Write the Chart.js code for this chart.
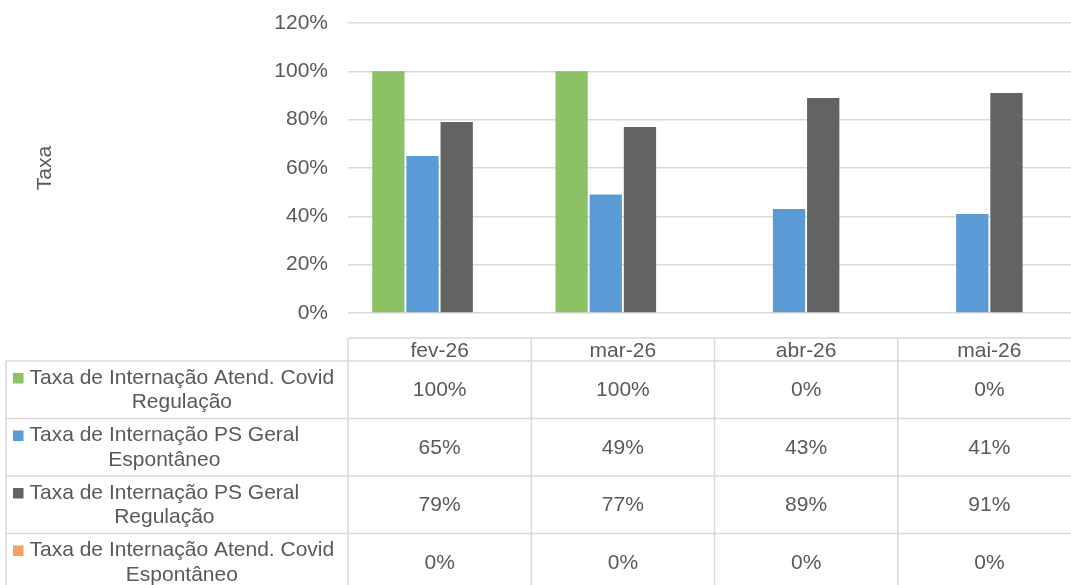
<!DOCTYPE html>
<html>
<head>
<meta charset="utf-8">
<script src="https://cdn.jsdelivr.net/npm/chart.js@4.4.1/dist/chart.umd.min.js"></script>
<style>
  html, body { margin: 0; padding: 0; overflow: hidden; background: #ffffff; }
  #wrap { position: absolute; left: 0; top: 0; width: 1083px; height: 585px; }
</style>
</head>
<body>
<div id="wrap"><canvas id="c" width="1083" height="585"></canvas></div>
<script>
// ---- Data ----
const categories = ['fev-26', 'mar-26', 'abr-26', 'mai-26'];
const seriesNames = [
  'Taxa de Internação Atend. Covid Regulação',
  'Taxa de Internação PS Geral Espontâneo',
  'Taxa de Internação PS Geral Regulação',
  'Taxa de Internação Atend. Covid Espontâneo'
];
const covidRegulacao = [100, 100, 0, 0];
const psGeralEspontaneo = [65, 49, 43, 41];
const psGeralRegulacao = [79, 77, 89, 91];
const covidEspontaneo = [0, 0, 0, 0];
const yTickValues = [0, 20, 40, 60, 80, 100, 120];
const axisTitle = 'Taxa';

const seriesValues = [covidRegulacao, psGeralEspontaneo, psGeralRegulacao, covidEspontaneo];
const seriesColors = ['#8DC166', '#5B9BD5', '#636363', '#F4A064'];

const FONT = '"Liberation Sans", Arial, sans-serif';
const TEXT = '#595959';
const LINE = '#D9D9D9';

const tablePlugin = {
  id: 'dataTable',
  afterDraw(chart) {
    const ctx = chart.ctx;
    const xs = chart.scales.x;
    const n = categories.length;
    const catW = (xs.right - xs.left) / n;
    const headerTop = 338, headerBottom = 361, rowH = 57.5;
    const tableLeft = 6;
    const bottom = headerBottom + rowH * seriesNames.length;

    ctx.save();
    ctx.strokeStyle = LINE;
    ctx.lineWidth = 1.5;
    ctx.beginPath();
    ctx.moveTo(xs.left, headerTop); ctx.lineTo(xs.right, headerTop);
    for (let i = 0; i <= n; i++) {
      const x = xs.left + i * catW;
      ctx.moveTo(x, headerTop); ctx.lineTo(x, bottom);
    }
    ctx.moveTo(tableLeft, headerBottom); ctx.lineTo(tableLeft, bottom);
    for (let k = 0; k <= seriesNames.length; k++) {
      const y = headerBottom + k * rowH;
      ctx.moveTo(tableLeft, y); ctx.lineTo(xs.right, y);
    }
    ctx.stroke();

    ctx.font = '21px ' + FONT;
    ctx.fillStyle = TEXT;
    ctx.textBaseline = 'alphabetic';
    ctx.textAlign = 'center';
    // header
    categories.forEach((c, i) => {
      ctx.fillText(c, xs.getPixelForValue(i), 356.5);
    });

    // rows
    const maxW = 314;
    seriesNames.forEach((name, r) => {
      const top = headerBottom + r * rowH;
      const words = name.split(' ');
      const lines = [];
      let cur = '';
      words.forEach(w => {
        const t = cur ? cur + ' ' + w : w;
        if (ctx.measureText(t).width > maxW && cur) { lines.push(cur); cur = w; }
        else cur = t;
      });
      if (cur) lines.push(cur);
      const blockW = Math.max(...lines.map(l => ctx.measureText(l).width));
      const blockLeft = 29.5;
      ctx.textAlign = 'center';
      lines.forEach((l, j) => {
        ctx.fillText(l, blockLeft + blockW / 2, top + 22.5 + j * 24.5);
      });
      // legend key
      ctx.fillStyle = seriesColors[r];
      ctx.fillRect(13, top + 12, 10.5, 10.5);
      ctx.fillStyle = TEXT;
      // values
      seriesValues[r].forEach((v, i) => {
        ctx.fillText(v + '%', xs.getPixelForValue(i), top + 35);
      });
    });

    // y axis title
    ctx.translate(45, 168);
    ctx.rotate(-Math.PI / 2);
    ctx.textAlign = 'center';
    ctx.textBaseline = 'middle';
    ctx.fillText(axisTitle, 0, 0);
    ctx.restore();
  }
};

new Chart(document.getElementById('c'), {
  type: 'bar',
  data: {
    labels: categories,
    datasets: seriesNames.map((name, i) => ({
      label: name,
      data: seriesValues[i],
      backgroundColor: seriesColors[i],
      borderWidth: 0,
      categoryPercentage: 0.746,
      barPercentage: 0.945
    }))
  },
  options: {
    responsive: false,
    animation: false,
    devicePixelRatio: 1,
    layout: { padding: { top: 23, bottom: 272, left: 0, right: 2 } },
    plugins: { legend: { display: false }, tooltip: { enabled: false }, title: { display: false } },
    scales: {
      x: { display: false },
      y: {
        min: 0, max: 120,
        afterFit(scale) { scale.width = 348; scale.paddingTop = 0; scale.paddingBottom = 0; },
        afterBuildTicks(scale) { scale.ticks = yTickValues.map(v => ({ value: v })); },
        border: { display: false },
        grid: { color: LINE, lineWidth: 1.5, drawTicks: false },
        ticks: {
          padding: 20,
          color: TEXT,
          font: { family: FONT, size: 21 },
          callback: v => v + '%'
        }
      }
    }
  },
  plugins: [tablePlugin]
});
</script>
</body>
</html>
